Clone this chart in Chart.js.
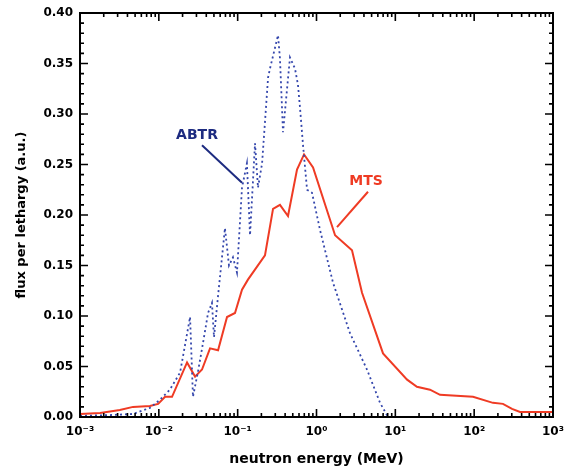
<!DOCTYPE html>
<html>
<head>
<meta charset="utf-8">
<script src="https://cdn.jsdelivr.net/npm/chart.js@4.4.0/dist/chart.umd.min.js"></script>
<style>
  html, body { margin: 0; padding: 0; background: #fff; }
  #wrap { width: 566px; height: 470px; }
</style>
</head>
<body>
<div id="wrap"><canvas id="fluxChart" width="566" height="470"></canvas></div>
<script>
// MTS spectrum (solid red), energy in MeV
const mtsEnergy = [0.001, 0.0018, 0.0032, 0.0047, 0.0077, 0.0098, 0.012, 0.0147, 0.0228, 0.0288,
  0.0353, 0.0446, 0.0564, 0.0733, 0.0925, 0.1135, 0.135, 0.222, 0.281, 0.344, 0.435, 0.566,
  0.695, 0.904, 1.72, 2.82, 3.78, 6.98, 14.1, 18.8, 27.5, 36.9, 96.7, 173, 232, 302, 382, 840, 1000];
const mtsFlux = [0.003, 0.004, 0.007, 0.010, 0.011, 0.013, 0.020, 0.020, 0.054, 0.040,
  0.047, 0.068, 0.066, 0.099, 0.103, 0.126, 0.136, 0.160, 0.206, 0.210, 0.199, 0.245,
  0.260, 0.247, 0.180, 0.165, 0.123, 0.063, 0.037, 0.030, 0.027, 0.022, 0.020, 0.014, 0.013, 0.008, 0.005, 0.005, 0.005];

// ABTR spectrum (dotted blue)
const abtrEnergy = [0.001, 0.0025, 0.0047, 0.0077, 0.0103, 0.0138, 0.0186, 0.0249, 0.0271, 0.0314,
  0.0363, 0.0421, 0.0472, 0.0501, 0.0564, 0.069, 0.0776, 0.0872, 0.098, 0.1135, 0.131, 0.1435,
  0.166, 0.181, 0.204, 0.243, 0.257, 0.325, 0.344, 0.376, 0.461, 0.533, 0.582, 0.618, 0.675,
  0.759, 0.877, 1.11, 1.62, 2.66, 4.37, 6.40, 8.08];
const abtrFlux = [0.001, 0.002, 0.003, 0.009, 0.017, 0.027, 0.044, 0.099, 0.020, 0.045,
  0.073, 0.103, 0.113, 0.079, 0.120, 0.187, 0.150, 0.158, 0.143, 0.227, 0.251, 0.180,
  0.271, 0.227, 0.251, 0.336, 0.345, 0.378, 0.355, 0.282, 0.356, 0.345, 0.329, 0.306, 0.269,
  0.225, 0.222, 0.185, 0.133, 0.083, 0.047, 0.014, 0.0];

const decadeTicks = [1e-3, 1e-2, 1e-1, 1, 10, 100, 1000];
const decadeLabels = ["10\u207B\u00B3", "10\u207B\u00B2", "10\u207B\u00B9", "10\u2070", "10\u00B9", "10\u00B2", "10\u00B3"];

// curve labels with their leader lines, in data units
const curveNotes = [
  { text: "ABTR", color: "#1d2b80", at: [0.0305, 0.279], from: [0.0353, 0.269], to: [0.1135, 0.232] },
  { text: "MTS", color: "#ef3b24", at: [4.25, 0.233], from: [4.5, 0.223], to: [1.82, 0.188] }
];

const FONT = "'DejaVu Sans', sans-serif";

const toPoints = (xs, ys) => xs.map((x, i) => ({ x: x, y: ys[i] }));

// box with inward ticks on all four sides
const frame = {
  id: "frame",
  afterDraw(chart) {
    const { ctx, chartArea: a, scales: { x, y } } = chart;
    ctx.save();
    ctx.strokeStyle = "#000";
    ctx.lineWidth = 1.6;
    ctx.beginPath();
    for (let i = 0; i <= 40; i++) {
      const py = y.getPixelForValue(i / 100);
      const len = i % 5 === 0 ? 8 : 4;
      ctx.moveTo(a.left, py); ctx.lineTo(a.left + len, py);
      ctx.moveTo(a.right, py); ctx.lineTo(a.right - len, py);
    }
    for (let d = -3; d <= 3; d++) {
      for (let m = 1; m <= 9; m++) {
        if (d === 3 && m > 1) break;
        const px = x.getPixelForValue(m * Math.pow(10, d));
        const len = m === 1 ? 8 : 4;
        ctx.moveTo(px, a.bottom); ctx.lineTo(px, a.bottom - len);
        ctx.moveTo(px, a.top); ctx.lineTo(px, a.top + len);
      }
    }
    ctx.stroke();
    ctx.lineWidth = 2;
    ctx.strokeRect(a.left, a.top, a.right - a.left, a.bottom - a.top);
    ctx.restore();
  }
};

const notes = {
  id: "notes",
  afterDatasetsDraw(chart) {
    const { ctx, scales: { x, y } } = chart;
    ctx.save();
    curveNotes.forEach(n => {
      ctx.strokeStyle = n.color;
      ctx.lineWidth = 2;
      ctx.beginPath();
      ctx.moveTo(x.getPixelForValue(n.from[0]), y.getPixelForValue(n.from[1]));
      ctx.lineTo(x.getPixelForValue(n.to[0]), y.getPixelForValue(n.to[1]));
      ctx.stroke();
      ctx.fillStyle = n.color;
      ctx.font = "bold 14px " + FONT;
      ctx.textAlign = "center";
      ctx.textBaseline = "middle";
      ctx.fillText(n.text, x.getPixelForValue(n.at[0]), y.getPixelForValue(n.at[1]));
    });
    ctx.restore();
  }
};

new Chart(document.getElementById("fluxChart"), {
  type: "line",
  data: {
    datasets: [
      {
        label: "ABTR",
        data: toPoints(abtrEnergy, abtrFlux),
        borderColor: "#3446ac",
        borderWidth: 1.8,
        borderDash: [2, 3],
        pointRadius: 0,
        tension: 0,
        fill: false
      },
      {
        label: "MTS",
        data: toPoints(mtsEnergy, mtsFlux),
        borderColor: "#ef3b24",
        borderWidth: 2,
        pointRadius: 0,
        tension: 0,
        fill: false
      }
    ]
  },
  options: {
    responsive: false,
    animation: false,
    layout: { padding: { top: 13, right: 13, left: 0, bottom: 0 } },
    plugins: { legend: { display: false }, tooltip: { enabled: false } },
    scales: {
      x: {
        type: "logarithmic",
        min: 1e-3,
        max: 1e3,
        afterBuildTicks: s => { s.ticks = decadeTicks.map(v => ({ value: v })); },
        afterFit: s => { s.height = 53; s.paddingLeft = 0; s.paddingRight = 0; },
        grid: { display: false, drawTicks: false },
        border: { display: false },
        ticks: {
          padding: 8,
          autoSkip: false,
          maxRotation: 0,
          color: "#000",
          font: { family: FONT, size: 12, weight: "bold" },
          callback: (v, i) => decadeLabels[i]
        },
        title: {
          display: true,
          text: "neutron energy (MeV)",
          color: "#000",
          font: { family: FONT, size: 14, weight: "bold" },
          padding: { top: 0, bottom: 2 }
        }
      },
      y: {
        min: 0,
        max: 0.4,
        afterFit: s => { s.width = 80; s.paddingTop = 0; s.paddingBottom = 0; },
        grid: { display: false, drawTicks: false },
        border: { display: false },
        ticks: {
          stepSize: 0.05,
          padding: 7,
          color: "#000",
          font: { family: FONT, size: 12, weight: "bold" },
          callback: v => v.toFixed(2)
        },
        title: {
          display: true,
          text: "flux per lethargy (a.u.)",
          color: "#000",
          font: { family: FONT, size: 13, weight: "bold" },
          padding: { top: 14, bottom: 0 }
        }
      }
    }
  },
  plugins: [frame, notes]
});
</script>
</body>
</html>
